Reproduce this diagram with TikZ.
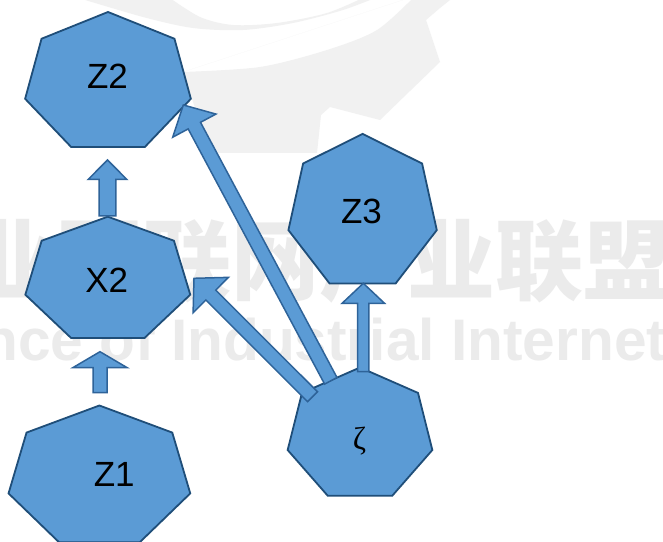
\documentclass[tikz,border=0pt]{standalone}
\usepackage{fontspec}
\setmainfont{Liberation Sans}
\newfontfamily\greekserif{Liberation Serif}
\newfontfamily\cjkfont{Noto Sans CJK SC}
\usetikzlibrary{calc}
\definecolor{hfill}{HTML}{5B9BD5}
\definecolor{hline}{HTML}{1F4E79}
\definecolor{aline}{HTML}{2E6399}
\definecolor{wmark}{HTML}{EBEBEB}
\definecolor{wgear}{HTML}{F1F1F1}
\tikzset{
  heptstyle/.style={fill=hfill, draw=hline, line width=1.8pt, line join=miter},
  arrowstyle/.style={fill=hfill, draw=aline, line width=1.5pt, line join=miter},
  lbl/.style={inner sep=0pt, font=\fontsize{35}{38}\selectfont},
  wm/.style={fill=wgear, draw=none},
}
\newcommand\heptagon[3]{%
  \draw[heptstyle] ([shift={(90:#2pt and #3pt)}]#1)
    \foreach \i in {1,...,6}{ -- ([shift={(90+\i*360/7:#2pt and #3pt)}]#1)} -- cycle;}
% tail, tip, shaft half width, head half width, head length
\newcommand\blockarrow[5]{%
  \draw[arrowstyle] let \p1=($(#2)-(#1)$), \n1={atan2(\y1,\x1)} in
    ($(#1)+(\n1+90:#3)$)
    -- ($(#2)+(\n1+180:#5)+(\n1+90:#3)$)
    -- ($(#2)+(\n1+180:#5)+(\n1+90:#4)$)
    -- (#2)
    -- ($(#2)+(\n1+180:#5)+(\n1-90:#4)$)
    -- ($(#2)+(\n1+180:#5)+(\n1-90:#3)$)
    -- ($(#1)+(\n1-90:#3)$) -- cycle;}
\begin{document}
\begin{tikzpicture}[x=1pt,y=1pt]
\useasboundingbox (0,0) rectangle (663,541);
\fill[white] (0,0) rectangle (663,541);
% watermark
\begin{scope}
  \clip (0,0) rectangle (663,541);
  % gear body
  \fill[wm] (183,469) -- (210,388) -- (317,388) -- (321,426) -- (330,434)
    -- (380,421) -- (440,479) -- (426,521) -- (440,533) -- (455,545)
    -- (415,545) plot[smooth] coordinates {(415,545) (377,511) (327,491) (260,474) (183,469)} -- cycle;
  % inner arc band
  \fill[wm] plot[smooth] coordinates {(72,545) (143,524) (193,513) (243,511) (293,518) (343,531) (380,545)}
    -- plot[smooth] coordinates {(367,545) (327,528) (277,518) (233,516) (200,524) (167,545)} -- cycle;
  \node[anchor=base west, inner sep=0pt, text=wmark, font=\cjkfont\bfseries\fontsize{88}{90}\selectfont] (wmcn) at (-121,247) {工业互联网产业联盟};
  \node[anchor=base west, inner sep=0pt, text=wmark, font=\bfseries\fontsize{58.6}{60}\selectfont] (wmen) at (-141.6,181) {Alliance of Industrial Internet};
\end{scope}
% heptagon centres
\coordinate (Z2) at (108,458);
\coordinate (X2) at (107.8,260.5);
\coordinate (Z1) at (99.4,63.6);
\coordinate (Z3) at (362.6,328.4);
\coordinate (ZE) at (360,106);
\heptagon{Z2}{85}{71}
\heptagon{X2}{84.6}{63.8}
\heptagon{Z1}{93.2}{71.9}
\heptagon{Z3}{76.1}{78.7}
\heptagon{ZE}{74.2}{67.5}
% labels
\node[lbl] (z2t) at (107.5,465.2) {Z2};
\node[lbl] (x2t) at (106.8,261) {X2};
\node[lbl] (z3t) at (361.5,330) {Z3};
\node[lbl] (z1t) at (114.2,66.5) {Z1};
\node[inner sep=0pt, font=\greekserif\fontsize{32}{34}\selectfont] (zet) at (359.5,100.2) {ζ};
% arrow end points
\coordinate (z1out) at (100,148.3);   \coordinate (x2in) at (100,189.3);
\coordinate (x2out) at (107.5,325);   \coordinate (z2in) at (107.5,381);
\coordinate (zeoutA) at (363.3,169.3); \coordinate (z3in) at (363.3,257.7);
\coordinate (zeoutB) at (330.8,160.2); \coordinate (z2inB) at (183.3,436);
\coordinate (zeoutC) at (312.5,144.3); \coordinate (x2inB) at (194,262.7);
\blockarrow{z1out}{x2in}{7pt}{27.2pt}{16pt}
\blockarrow{x2out}{z2in}{8.3pt}{19.2pt}{19.3pt}
\blockarrow{zeoutA}{z3in}{5.6pt}{21.2pt}{20pt}
\blockarrow{zeoutB}{z2inB}{7pt}{24.5pt}{23.4pt}
\blockarrow{zeoutC}{x2inB}{7pt}{25pt}{23.7pt}
\end{tikzpicture}
\end{document}
